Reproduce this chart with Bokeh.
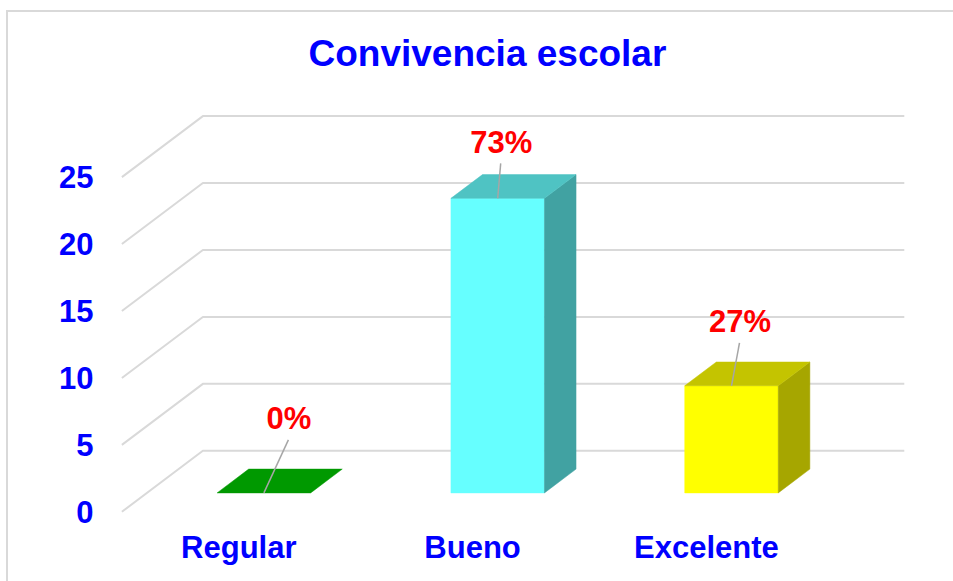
from bokeh.plotting import figure
from bokeh.models import FixedTicker, Range1d, GlobalInlineStyleSheet
from bokeh.core.properties import value
from bokeh.embed import file_html
from bokeh.resources import INLINE

# ---- data ----
categories = ["Regular", "Bueno", "Excelente"]
counts = [0, 22, 8]
y_ticks = [0, 5, 10, 15, 20, 25]
front_colors = ["#00B000", "#66FFFF", "#FFFF00"]
top_colors = ["#009900", "#4FC3C3", "#C4C400"]
side_colors = ["#007A00", "#41A2A2", "#A6A600"]

total = sum(counts)
pct_labels = [f"{round(c * 100 / total)}%" for c in counts]

# ---- layout constants ----
W, H = 953, 581
ML, MR, MT, MB = 98, 25, 90, 63
FW, FH = W - ML - MR, H - MT - MB
X0, X1 = -0.1, 3.45
Y0, Y1 = -0.5, 31.47
SX = FW / (X1 - X0)
SY = FH / (Y1 - Y0)
DEPTH_X = 81 / SX
DEPTH_Y = 61 / SY
BAR_W = 0.40
F0, F1 = 0.31, 0.70
FONT = "Liberation Sans"
label_dx = [25, 3.5, 8.5]
label_dy = [-74, -56, -64]

p = figure(width=W, height=H, output_backend="svg", toolbar_location=None,
           x_range=Range1d(X0, X1), y_range=Range1d(Y0, Y1),
           min_border_left=ML, min_border_right=MR, min_border_top=MT, min_border_bottom=MB)
p.outline_line_color = None
p.xgrid.visible = False
p.ygrid.visible = False
p.background_fill_color = "white"
p.border_fill_color = "white"

# chart-area border (only left and top edges fall inside the window)
p.stylesheets = [GlobalInlineStyleSheet(css="""
body::before {
  content: "";
  position: fixed;
  left: 6px; top: 10px; right: -20px; bottom: -20px;
  border-left: 2px solid #D9D9D9;
  border-top: 2px solid #D9D9D9;
  pointer-events: none;
  z-index: 1000;
}
""")]

# title
p.title.text = "Convivencia escolar"
p.title.align = "left"
p.title.offset = 210
p.title.text_font = FONT
p.title.text_font_size = "37px"
p.title.text_font_style = "bold"
p.title.text_color = "#0000FF"
p.title.standoff = 34

# gridlines (3D walls)
gxs = [[0, DEPTH_X, 3 + DEPTH_X] for t in y_ticks]
gys = [[t, t + DEPTH_Y, t + DEPTH_Y] for t in y_ticks]
p.multi_line(gxs, gys, line_color="#D9D9D9", line_width=2)

# bars
ddx = (F1 - F0) * DEPTH_X
ddy = (F1 - F0) * DEPTH_Y
pxs, pys, pcols = [], [], []
ax, ay = [], []
for i, v in enumerate(counts):
    cx = i + 0.5
    xl = cx - BAR_W / 2 + F0 * DEPTH_X
    xr = xl + BAR_W
    yb = F0 * DEPTH_Y
    yt = v + yb
    if v > 0:
        pxs.append([xl, xr, xr, xl]); pys.append([yb, yb, yt, yt]); pcols.append(front_colors[i])
        pxs.append([xr, xr + ddx, xr + ddx, xr]); pys.append([yb, yb + ddy, yt + ddy, yt]); pcols.append(side_colors[i])
    pxs.append([xl, xr, xr + ddx, xl + ddx]); pys.append([yt, yt, yt + ddy, yt + ddy]); pcols.append(top_colors[i])
    ax.append(cx + F0 * DEPTH_X)
    ay.append(yt)
p.patches(pxs, pys, fill_color=pcols, line_color=pcols, line_width=0.5)

# leader lines
lx0 = [ax[i] for i in range(3)]
ly0 = [ay[i] for i in range(3)]
lx1 = [ax[i] + (label_dx[i] - 0.5) / SX for i in range(3)]
ly1 = [ay[i] - (label_dy[i] + 21) / SY for i in range(3)]
p.segment(lx0, ly0, lx1, ly1, line_color="#A6A6A6", line_width=1.5)

# percentage labels
p.text(ax, ay, text=pct_labels, x_offset=label_dx, y_offset=label_dy,
       text_align="center", text_baseline="middle", text_color="#FF0000",
       text_font=value(FONT), text_font_size="31px", text_font_style="bold")

# axes
p.yaxis.ticker = FixedTicker(ticks=y_ticks)
p.yaxis.axis_line_color = None
p.yaxis.major_tick_line_color = None
p.yaxis.minor_tick_line_color = None
p.yaxis.major_tick_out = 0
p.yaxis.major_label_standoff = 5
p.yaxis.major_label_text_font = FONT
p.yaxis.major_label_text_font_size = "31px"
p.yaxis.major_label_text_font_style = "bold"
p.yaxis.major_label_text_color = "#0000FF"

p.xaxis.ticker = FixedTicker(ticks=[i + 0.5 for i in range(len(categories))])
p.xaxis.major_label_overrides = {i + 0.5: c for i, c in enumerate(categories)}
p.xaxis.axis_line_color = None
p.xaxis.major_tick_line_color = None
p.xaxis.minor_tick_line_color = None
p.xaxis.major_tick_out = 0
p.xaxis.major_label_standoff = 11
p.xaxis.major_label_text_font = FONT
p.xaxis.major_label_text_font_size = "31px"
p.xaxis.major_label_text_font_style = "bold"
p.xaxis.major_label_text_color = "#0000FF"

open("out.html", "w").write(file_html(p, INLINE))
